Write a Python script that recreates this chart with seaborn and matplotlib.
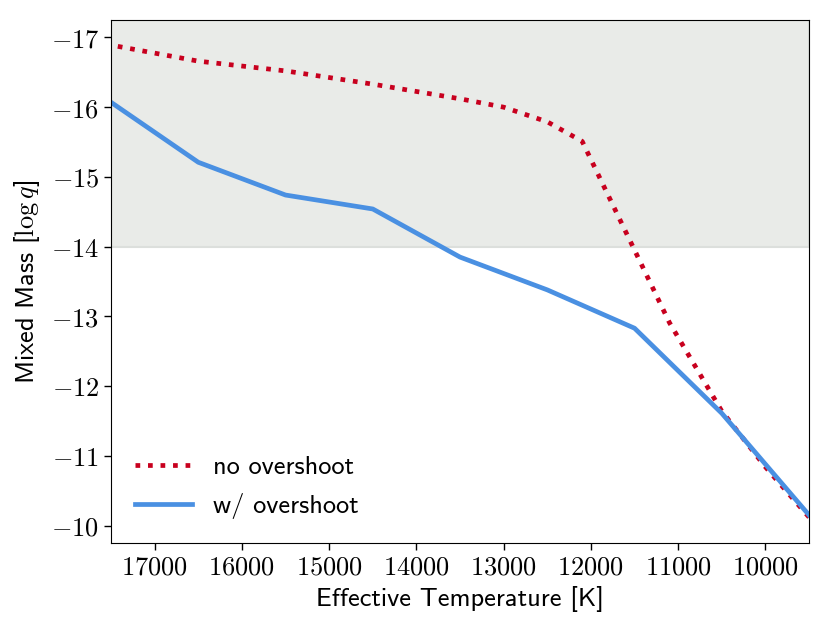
import pandas as pd
import seaborn as sb
import matplotlib
matplotlib.use("Agg")
import matplotlib.pyplot as plt
from matplotlib.ticker import FuncFormatter, MultipleLocator

plt.rcParams["mathtext.fontset"] = "cm"
plt.rcParams["axes.unicode_minus"] = False

# no overshoot
teff_no = [17500, 16500, 15500, 14500, 13500, 13000, 12500, 12100, 11100, 10500, 10000, 9500]
mass_no = [-16.89, -16.66, -16.52, -16.33, -16.12, -16.0, -15.79, -15.51, -12.91, -11.64, -10.84, -10.12]

# w/ overshoot
teff_ov = [17500, 16500, 15500, 14500, 13500, 12500, 11500, 10500, 9500]
mass_ov = [-16.07, -15.21, -14.74, -14.54, -13.85, -13.38, -12.83, -11.61, -10.15]

df_no = pd.DataFrame({"teff": teff_no, "mass": mass_no})
df_ov = pd.DataFrame({"teff": teff_ov, "mass": mass_ov})

fig = plt.figure(figsize=(8.31, 6.29), dpi=100)
ax = fig.add_axes([0.1336, 0.1367, 0.8400, 0.8315])

ax.axhspan(-14, -18, facecolor="#e9ebe8", edgecolor="#dcdfdc", linewidth=1.5, zorder=0)

sb.lineplot(data=df_no, x="teff", y="mass", ax=ax, color="#c8001e", linestyle=":",
            linewidth=3.4, label="no overshoot")
sb.lineplot(data=df_ov, x="teff", y="mass", ax=ax, color="#4a90e2", linestyle="-",
            linewidth=3.4, label="w/ overshoot")

ax.set_xlim(17500, 9500)
ax.set_ylim(-9.75, -17.25)
ax.xaxis.set_major_locator(MultipleLocator(1000))
ax.yaxis.set_major_locator(MultipleLocator(1))
ax.xaxis.set_major_formatter(FuncFormatter(lambda x, _: f"${x:.0f}$"))
ax.yaxis.set_major_formatter(FuncFormatter(lambda y, _: f"${y:.0f}$"))
ax.tick_params(labelsize=19, length=5, width=1)

ax.set_xlabel("Effective Temperature [K]", fontsize=19, family="cmss10")
ax.set_ylabel(r"Mixed Mass [$\log q$]", fontsize=19, family="cmss10", labelpad=6)

leg = ax.legend(loc="lower left", frameon=False, fontsize=19, handlelength=2.15,
                handletextpad=0.8, labelspacing=0.55)
for t in leg.get_texts():
    t.set_family("cmss10")

fig.savefig("out.png", dpi=100)
